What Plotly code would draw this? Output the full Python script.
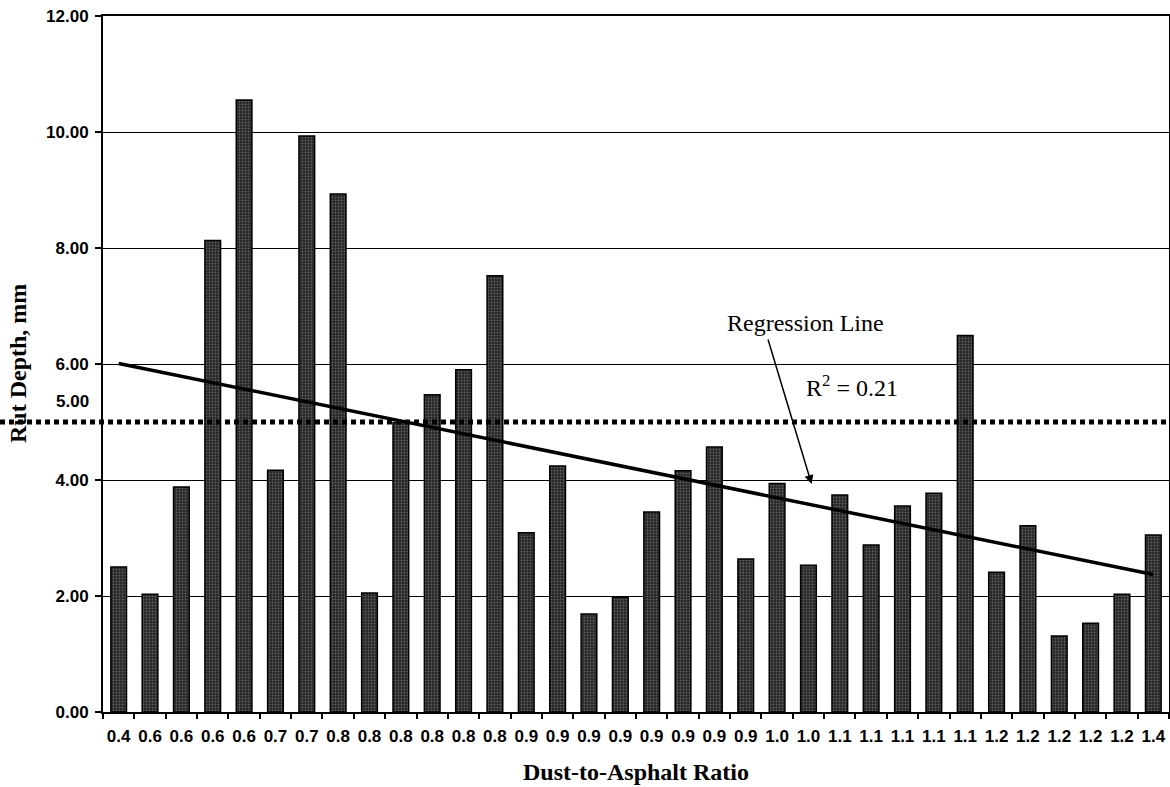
import plotly.graph_objects as go

# ---- data ----
ratio_labels = ["0.4", "0.6", "0.6", "0.6", "0.6", "0.7", "0.7", "0.8", "0.8", "0.8",
                "0.8", "0.8", "0.8", "0.9", "0.9", "0.9", "0.9", "0.9", "0.9", "0.9",
                "0.9", "1.0", "1.0", "1.1", "1.1", "1.1", "1.1", "1.1", "1.2", "1.2",
                "1.2", "1.2", "1.2", "1.4"]
rut_depth = [2.50, 2.03, 3.88, 8.13, 10.55, 4.17, 9.93, 8.93, 2.05, 4.99,
             5.47, 5.90, 7.52, 3.09, 4.24, 1.69, 1.98, 3.45, 4.16, 4.57,
             2.64, 3.94, 2.53, 3.74, 2.88, 3.55, 3.77, 6.49, 2.41, 3.21,
             1.31, 1.53, 2.03, 3.05]
regression_ends = [6.01, 2.37]   # regression line value at first / last sample
threshold = 5.00
y_ticks = [0, 2, 4, 6, 8, 10, 12]

# ---- layout constants ----
W, H = 1170, 787
ML, MR, MT, MB = 103, 1, 16, 75
plot_w = W - ML - MR

n = len(rut_depth)
x_idx = list(range(n))

fig = go.Figure()

fig.add_trace(go.Bar(
    x=x_idx, y=rut_depth, width=0.5,
    marker=dict(color="#2a2a2a",
                line=dict(color="black", width=1.5),
                pattern=dict(shape=".", fgcolor="#9a9a9a", bgcolor="#262626",
                             size=3, solidity=0.3)),
    showlegend=False, hoverinfo="skip"))

fig.add_trace(go.Scatter(
    x=[x_idx[0], x_idx[-1]], y=regression_ends, mode="lines",
    line=dict(color="black", width=3.5), showlegend=False, hoverinfo="skip"))

# dotted 5.00 mm criterion line (extends across the whole width)
fig.add_shape(type="line", xref="paper", yref="paper",
              x0=-ML / plot_w, x1=1.0 + MR / plot_w,
              y0=threshold / y_ticks[-1], y1=threshold / y_ticks[-1],
              line=dict(color="black", width=5, dash="5px,4px"))

serif = "Liberation Serif, Times New Roman, serif"
sans = "Liberation Sans, Arial, sans-serif"

annotations = [
    dict(x=-12 / plot_w, xref="paper", y=threshold + 0.36, yref="y",
         text="5.00", showarrow=False, xanchor="right", yanchor="middle",
         font=dict(family=sans, size=17, color="black", weight="bold")),
    dict(x=21.9, y=6.7, xref="x", yref="y", text="Regression Line",
         showarrow=False, font=dict(family=serif, size=24, color="black")),
    dict(x=23.4, y=5.62, xref="x", yref="y", text="R<sup>2</sup> = 0.21",
         showarrow=False, font=dict(family=serif, size=24, color="black")),
    dict(x=22.1, y=3.93, xref="x", yref="y", text="", showarrow=True,
         ax=-44, ay=-146, axref="pixel", ayref="pixel",
         arrowhead=2, arrowsize=1.2, arrowwidth=1.5, arrowcolor="black"),
    dict(x=0.5, xref="paper", y=-60 / (H - MT - MB), yref="paper",
         text="<b>Dust-to-Asphalt Ratio</b>", showarrow=False,
         xanchor="center", yanchor="middle",
         font=dict(family=serif, size=24, color="black")),
    dict(x=-85 / plot_w, xref="paper", y=0.5, yref="paper",
         text="<b>Rut Depth, mm</b>", showarrow=False, textangle=-90,
         xanchor="center", yanchor="middle",
         font=dict(family=serif, size=24, color="black")),
]

fig.update_layout(
    width=W, height=H,
    margin=dict(l=ML, r=MR, t=MT, b=MB, autoexpand=False),
    paper_bgcolor="white", plot_bgcolor="white",
    annotations=annotations,
    bargap=0.5,
    xaxis=dict(range=[-0.5, n - 0.5], tickmode="array", tickvals=x_idx,
               ticktext=ratio_labels, ticks="", ticklabelstandoff=8,
               tickfont=dict(family=sans, size=17, color="black", weight="bold"),
               showgrid=False, zeroline=False, showline=True, linecolor="black",
               linewidth=2, mirror=True,
               minor=dict(tickmode="linear", tick0=-0.5, dtick=1, ticks="outside",
                          ticklen=5, tickwidth=1.5, tickcolor="black", showgrid=False)),
    yaxis=dict(range=[0, 12], tickmode="array", tickvals=y_ticks,
               tickformat=".2f", ticks="outside", ticklen=6, tickwidth=1.5,
               tickcolor="black", ticklabelstandoff=3,
               tickfont=dict(family=sans, size=17, color="black", weight="bold"),
               showgrid=True, gridcolor="black", gridwidth=1, zeroline=False,
               showline=True, linecolor="black", linewidth=2, mirror=True),
)

fig.write_html("out.html")
